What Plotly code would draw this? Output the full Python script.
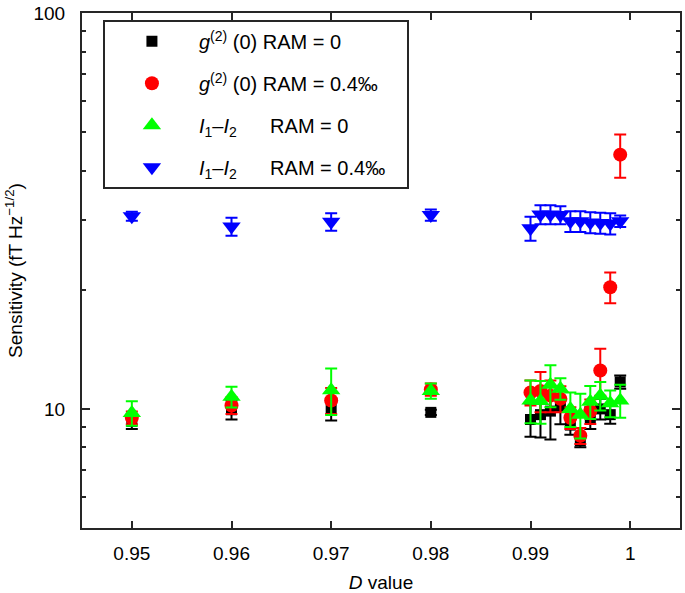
import plotly.graph_objects as go

D = [0.95, 0.96, 0.97, 0.98, 0.990, 0.991, 0.992, 0.993, 0.994, 0.995, 0.996, 0.997, 0.998, 0.999]

g2_ram0 = [9.3, 9.95, 10.0, 9.8, 9.4, 9.67, 9.87, 10.15, 9.1, 8.3, 9.5, 10.0, 9.67, 11.7]
g2_ram0_err = [0.4, 0.55, 0.65, 0.15, 0.9, 1.2, 1.5, 1.0, 0.5, 0.3, 0.6, 0.6, 0.5, 0.45]

g2_ram04 = [9.5, 10.2, 10.5, 11.2, 11.0, 11.1, 10.8, 10.6, 9.5, 8.55, 9.86, 12.5, 20.3, 43.9]
g2_ram04_err = [0.35, 0.5, 0.8, 0.4, 0.8, 1.3, 1.0, 0.8, 0.6, 0.4, 0.7, 1.7, 1.8, 5.5]

i12_ram0 = [9.76, 10.73, 11.15, 11.1, 10.5, 10.47, 11.5, 11.25, 10.0, 9.67, 10.43, 10.8, 10.33, 10.5]
i12_ram0_err = [0.7, 0.65, 1.5, 0.5, 1.3, 1.3, 1.4, 0.7, 1.0, 1.25, 1.0, 0.9, 0.8, 1.0]

i12_ram04 = [30.7, 28.9, 29.7, 30.9, 28.6, 31.0, 31.0, 30.9, 29.8, 29.8, 29.6, 29.5, 29.4, 29.8]
i12_ram04_err = [0.8, 1.5, 1.5, 1.0, 2.0, 1.7, 1.7, 1.6, 1.8, 1.8, 1.8, 1.8, 1.8, 1.0]

pad = "\u00a0" * 3
names = [
    "<i>g</i><sup>(2)</sup> (0) RAM = 0",
    "<i>g</i><sup>(2)</sup> (0) RAM = 0.4‰" + pad,
    "<i>I</i><sub>1</sub>–<i>I</i><sub>2</sub>\u00a0\u00a0\u00a0\u00a0\u00a0\u00a0RAM = 0",
    "<i>I</i><sub>1</sub>–<i>I</i><sub>2</sub>\u00a0\u00a0\u00a0\u00a0\u00a0\u00a0RAM = 0.4‰" + pad,
]

series = [
    (g2_ram0, g2_ram0_err, "square", 11, "#000000"),
    (g2_ram04, g2_ram04_err, "circle", 14, "#ff0000"),
    (i12_ram0, i12_ram0_err, "triangle-up", 16, "#00ff00"),
    (i12_ram04, i12_ram04_err, "triangle-down", 16, "#0000ff"),
]

fig = go.Figure()
for i, (vals, errs, sym, sz, col) in enumerate(series):
    fig.add_trace(go.Scatter(
        x=D, y=vals, mode="markers", name=names[i], legendgroup=str(i),
        marker=dict(symbol=sym, size=sz, color=col, line=dict(width=0)),
        error_y=dict(type="data", array=errs, visible=True, color=col, thickness=2, width=6),
    ))

axis_col = "#262626"
fig.update_layout(
    width=685, height=593,
    margin=dict(l=82, r=3, t=5, b=60),
    paper_bgcolor="white", plot_bgcolor="white",
    font=dict(family="Liberation Sans, Arial, sans-serif", size=19, color="#000000"),
    showlegend=True,
    legend=dict(
        x=0.035, y=0.987, xanchor="left", yanchor="top",
        bgcolor="white", bordercolor=axis_col, borderwidth=2,
        font=dict(size=20, color="#000000"),
        itemwidth=84, tracegroupgap=13,
    ),
)
fig.update_xaxes(
    range=[0.945, 1.005], tickvals=[0.95, 0.96, 0.97, 0.98, 0.99, 1.0],
    ticktext=["0.95", "0.96", "0.97", "0.98", "0.99", "1"],
    ticks="inside", ticklen=7, tickwidth=2, tickcolor=axis_col,
    showline=True, linecolor=axis_col, linewidth=2, mirror="allticks",
    showgrid=False, zeroline=False, ticklabelstandoff=7,
    title=dict(text="<i>D</i> value", font=dict(size=19), standoff=13),
)
fig.update_yaxes(
    type="log", range=[0.69897, 2.0005], tickvals=[10, 100], ticktext=["10", "100"],
    ticks="inside", ticklen=8, tickwidth=2, tickcolor=axis_col,
    showline=True, linecolor=axis_col, linewidth=2, mirror="allticks",
    showgrid=False, zeroline=False, ticklabelstandoff=11, ticklabeloverflow="allow",
    minor=dict(ticks="inside", ticklen=4, tickwidth=2, tickcolor=axis_col,
               tickvals=[6, 7, 8, 9, 20, 30, 40, 50, 60, 70, 80, 90], showgrid=False),
    title=dict(text="Sensitivity (fT Hz<sup>−1/2</sup>)", font=dict(size=19), standoff=6),
)

fig.write_html("out.html", config={"displayModeBar": False},
               post_script="document.body.style.margin='0';")
